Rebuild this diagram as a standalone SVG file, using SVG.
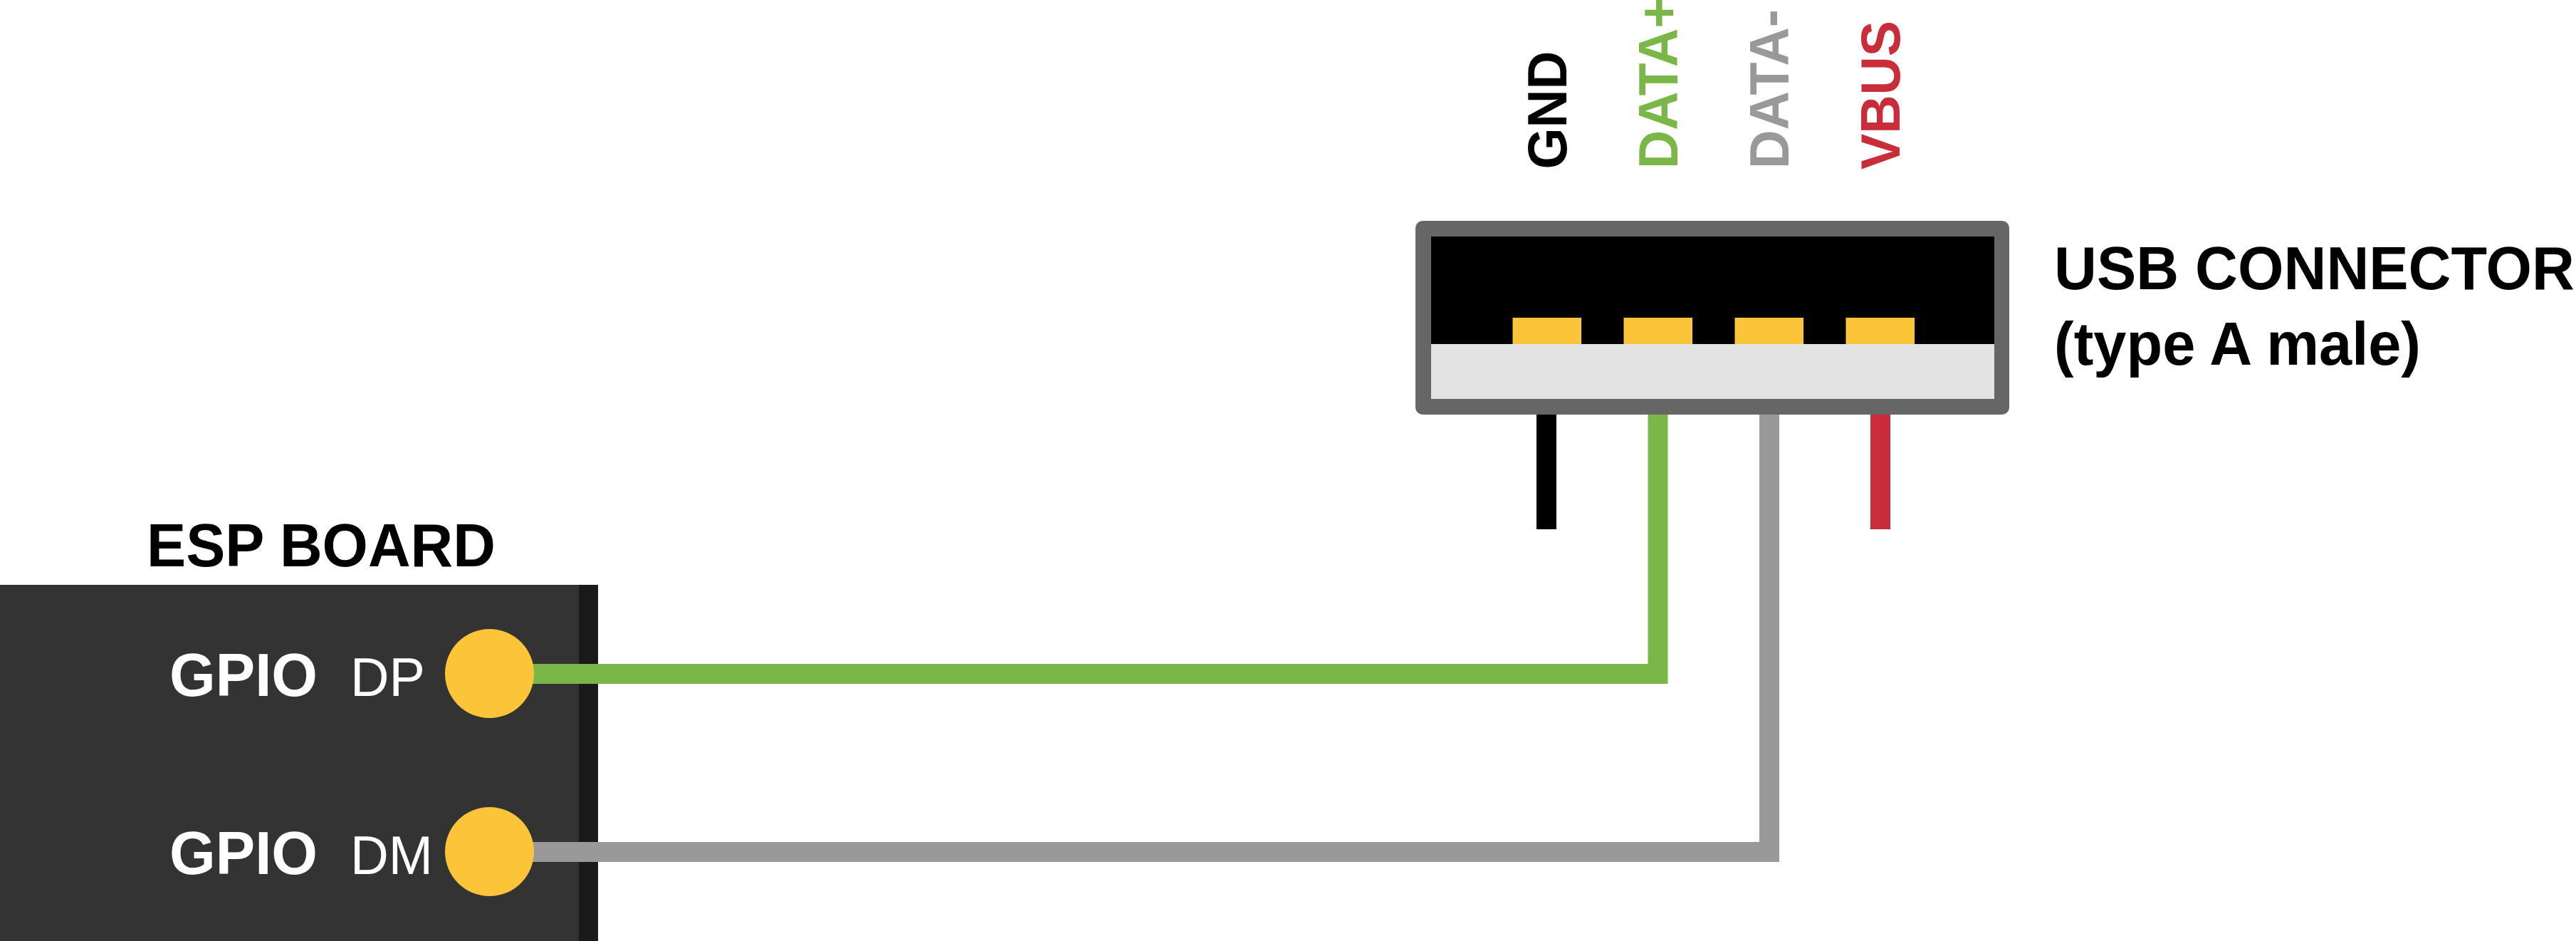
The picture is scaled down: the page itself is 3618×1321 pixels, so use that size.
<svg xmlns="http://www.w3.org/2000/svg" width="3618" height="1321" viewBox="0 0 3618 1321">
<style>
text{font-family:"Liberation Sans",Arial,sans-serif}
.b{font-weight:700;font-size:86px}
.r{font-weight:700;font-size:78.500px}
.w{fill:#fff}
.p{font-size:76px;fill:#fff}
.pin{fill:#fcc438}
.wire{fill:none;stroke-width:28}
</style>
<rect width="3618" height="1321" fill="#fff"/>
<g id="connectors">
<path class="wire" stroke="#000" d="M2172 570V743"/>
<path class="wire" stroke="#c92d39" d="M2641 570V743"/>
<path class="wire" stroke="#7ab648" d="M740 946H2328.500V570"/>
<path class="wire" stroke="#999" d="M740 1196H2485V570"/>
</g>
<g id="esp-board">
<rect x="0" y="821" width="813" height="500" fill="#333"/>
<rect x="813" y="821" width="27" height="500" fill="#1a1a1a"/>
<path class="wire" stroke="#7ab648" d="M740 946H840"/>
<path class="wire" stroke="#999" d="M740 1196H840"/>
<text class="b" x="206" y="795" textLength="490" lengthAdjust="spacingAndGlyphs">ESP BOARD</text>
<text class="b w" x="238" y="976.500" textLength="208" lengthAdjust="spacingAndGlyphs">GPIO</text>
<text class="p" x="492" y="976.500" textLength="105" lengthAdjust="spacingAndGlyphs">DP</text>
<text class="b w" x="238" y="1226.500" textLength="208" lengthAdjust="spacingAndGlyphs">GPIO</text>
<text class="p" x="492" y="1226.500" textLength="116" lengthAdjust="spacingAndGlyphs">DM</text>
<circle class="pin" cx="687.500" cy="945.500" r="62.500"/>
<circle class="pin" cx="687.500" cy="1195.500" r="62.500"/>
</g>
<g id="usb-connector">
<rect x="1988" y="310" width="834" height="272" rx="10" fill="#666"/>
<rect x="2010" y="332" width="791" height="151" fill="#000"/>
<rect x="2010" y="483" width="791" height="77" fill="#e3e3e3"/>
<rect class="pin" x="2124.500" y="446" width="96.500" height="37"/>
<rect class="pin" x="2280.500" y="446" width="96.500" height="37"/>
<rect class="pin" x="2436.500" y="446" width="96.500" height="37"/>
<rect class="pin" x="2592.500" y="446" width="96.500" height="37"/>
<text class="b" x="2885" y="406" textLength="731" lengthAdjust="spacingAndGlyphs">USB CONNECTOR</text>
<text class="b" x="2885" y="511.500" textLength="515" lengthAdjust="spacingAndGlyphs">(type A male)</text>
</g>
<g id="pin-labels">
<text class="r" transform="translate(2199.500 237.500) rotate(-90)" textLength="166" lengthAdjust="spacingAndGlyphs">GND</text>
<text class="r" fill="#7ab648" transform="translate(2356 237) rotate(-90)" textLength="241" lengthAdjust="spacingAndGlyphs">DATA+</text>
<text class="r" fill="#999" transform="translate(2511.500 237) rotate(-90)" textLength="224" lengthAdjust="spacingAndGlyphs">DATA-</text>
<text class="r" fill="#c92d39" transform="translate(2668 238) rotate(-90)" textLength="209" lengthAdjust="spacingAndGlyphs">VBUS</text>
</g>
</svg>
